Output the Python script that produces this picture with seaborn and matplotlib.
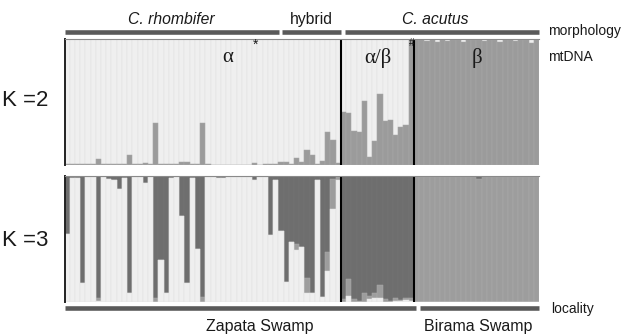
import numpy as np
import pandas as pd
import matplotlib
matplotlib.use("Agg")
import matplotlib.pyplot as plt
import seaborn as sns
from matplotlib.lines import Line2D

# ---------------- data ----------------
section_sizes = [53, 14, 24]          # alpha, alpha/beta, beta (mtDNA groups)
section_labels = ["α", "α/β", "β"]

# K = 2 : membership in cluster 2 (grey); cluster 1 (light) is the rest
k2_alpha_grey = [0.005, 0.004, 0.004, 0.004, 0.005, 0.004, 0.05, 0.004, 0.004, 0.004,
                 0.005, 0.004, 0.08, 0.004, 0.004, 0.015, 0.004, 0.33, 0.008, 0.005,
                 0.004, 0.004, 0.02, 0.02, 0.004, 0.01, 0.33, 0.004, 0.003, 0.003,
                 0.003, 0.003, 0.003, 0.003, 0.003, 0.003, 0.014, 0.003, 0.01, 0.005,
                 0.01, 0.024, 0.02, 0.01, 0.058, 0.02, 0.12, 0.08, 0.01, 0.03,
                 0.26, 0.20, 0.013]
k2_ab_grey = [0.42, 0.41, 0.27, 0.26, 0.51, 0.06, 0.19, 0.56, 0.35, 0.36, 0.24, 0.30, 0.32, 1.0]
k2_beta_grey = [0.99, 0.995, 0.985, 0.99, 0.98, 0.99, 0.985, 0.99, 0.99, 0.98, 0.99, 0.99,
                0.99, 0.985, 0.99, 0.99, 0.98, 0.99, 0.99, 0.985, 0.99, 0.99, 0.97, 0.99]

# K = 3 : dark cluster and medium cluster; light cluster is the rest
k3_alpha_dark = [0.46, 0.013, 0.013, 0.85, 0.01, 0.01, 0.97, 0.01, 0.02, 0.03,
                 0.10, 0.015, 0.93, 0.01, 0.01, 0.055, 0.01, 0.97, 0.67, 0.93,
                 0.015, 0.01, 0.32, 0.85, 0.012, 0.58, 0.96, 0.01, 0.01, 0.015,
                 0.015, 0.01, 0.01, 0.01, 0.01, 0.01, 0.035, 0.01, 0.01, 0.47,
                 0.03, 0.44, 0.84, 0.52, 0.54, 0.56, 0.81, 0.93, 0.03, 0.96,
                 0.60, 0.02, 0.01]
k3_alpha_medium = [0.0, 0.0, 0.0, 0.0, 0.0, 0.0, 0.02, 0.0, 0.0, 0.0,
                   0.0, 0.0, 0.0, 0.0, 0.0, 0.0, 0.0, 0.03, 0.0, 0.0,
                   0.0, 0.0, 0.0, 0.0, 0.0, 0.0, 0.04, 0.0, 0.0, 0.0,
                   0.0, 0.0, 0.0, 0.0, 0.0, 0.0, 0.0, 0.0, 0.0, 0.0,
                   0.0, 0.0, 0.0, 0.0, 0.045, 0.0, 0.12, 0.0, 0.0, 0.0,
                   0.15, 0.24, 0.02]
k3_ab_light = [0.0, 0.05, 0.0, 0.0, 0.0, 0.02, 0.035, 0.035, 0.0, 0.0, 0.01, 0.005, 0.015, 0.01]
k3_ab_medium = [0.02, 0.13, 0.025, 0.01, 0.075, 0.03, 0.04, 0.10, 0.02, 0.01, 0.02, 0.01, 0.02, 0.02]
k3_beta_dark = [0.005, 0.005, 0.005, 0.005, 0.005, 0.005, 0.005, 0.005, 0.005, 0.005, 0.005, 0.005,
                0.02, 0.005, 0.005, 0.005, 0.005, 0.005, 0.005, 0.005, 0.005, 0.005, 0.005, 0.005]

morph_labels = ["C. rhombifer", "hybrid", "C. acutus"]
locality_labels = ["Zapata Swamp", "Birama Swamp"]

# ---------------- tables ----------------
N = sum(section_sizes)
k2_grey = np.array(k2_alpha_grey + k2_ab_grey + k2_beta_grey)
k2 = pd.DataFrame({"ind": np.arange(N), "grey": k2_grey, "light": 1 - k2_grey})

k3_dark = np.array(k3_alpha_dark + [1 - l - m for l, m in zip(k3_ab_light, k3_ab_medium)] + k3_beta_dark)
k3_medium = np.array(k3_alpha_medium + k3_ab_medium + [1 - d for d in k3_beta_dark])
k3_light = 1 - k3_dark - k3_medium
k3 = pd.DataFrame({"ind": np.arange(N), "light": k3_light, "medium": k3_medium, "dark": k3_dark})

LIGHT = "#efefef"
GREY = "#9b9b9b"
MED = "#9d9d9d"
DARK = "#6e6e6e"

# ---------------- figure ----------------
sns.set_theme(style="white")
plt.rcParams["font.family"] = ["Liberation Sans", "DejaVu Sans"]

W, H = 621, 335
fig = plt.figure(figsize=(W / 100, H / 100), dpi=100)

def px_axes(x0, y0, x1, y1):
    return fig.add_axes([x0 / W, 1 - y1 / H, (x1 - x0) / W, (y1 - y0) / H])

def stacked(ax, df, cols, colors, edges):
    cum = df[cols].cumsum(axis=1)
    for col, c, e in reversed(list(zip(cols, colors, edges))):
        sns.barplot(x=df["ind"], y=cum[col], color=c, saturation=1, width=1.0,
                    errorbar=None, edgecolor=e, linewidth=0.35, ax=ax)

X0, X1 = 64.5, 539
ax2 = px_axes(X0, 39, X1, 165)
ax3 = px_axes(X0, 176, X1, 302)

stacked(ax2, k2, ["grey", "light"], [GREY, LIGHT], ["#a9a9a9", "#e2e2e2"])
stacked(ax3, k3, ["light", "medium", "dark"], [LIGHT, MED, DARK], ["#e2e2e2", "#aaaaaa", "#767676"])

bounds = np.cumsum(section_sizes)[:-1] - 0.5
for ax in (ax2, ax3):
    ax.set_xlim(-0.5, N - 0.5)
    ax.set_ylim(0, 1)
    ax.set_xticks([])
    ax.set_yticks([])
    ax.set_xlabel("")
    ax.set_ylabel("")
    for b in bounds:
        ax.axvline(b, color="black", lw=1.5)
    for s in ("right", "bottom"):
        ax.spines[s].set_visible(False)
    ax.spines["left"].set_color("#222222")
    ax.spines["left"].set_linewidth(1.4)
    ax.spines["top"].set_color("#8a8a8a")
    ax.spines["top"].set_linewidth(0.8)

def ftext(x, y, s, **kw):
    fig.text(x / W, 1 - y / H, s, **kw)

def fbar(x0, x1, y):
    fig.add_artist(Line2D([x0 / W, x1 / W], [1 - y / H, 1 - y / H], color="#5a5a5a",
                          lw=3.3, solid_capstyle="butt"))

TXT = "#1a1a1a"
# morphology
fbar(65, 278.5, 31.7)
fbar(281.7, 340.5, 31.7)
fbar(345, 538.5, 31.7)
ftext(171.5, 19.5, morph_labels[0], style="italic", fontsize=11.3, ha="center", va="center", color=TXT)
ftext(311.5, 19.5, morph_labels[1], fontsize=11.3, ha="center", va="center", color=TXT)
ftext(435.5, 19.5, morph_labels[2], style="italic", fontsize=11.3, ha="center", va="center", color=TXT)
ftext(548, 31, "morphology", fontsize=10, ha="left", va="center", color=TXT)
ftext(548, 57, "mtDNA", fontsize=10, ha="left", va="center", color=TXT)

# mtDNA labels
serif = ["Liberation Serif", "DejaVu Serif"]
ftext(228, 58, section_labels[0], fontsize=15, ha="center", va="center", family=serif, color=TXT)
ftext(378, 58, section_labels[1], fontsize=15, ha="center", va="center", family=serif, color=TXT)
ftext(477, 58, section_labels[2], fontsize=15, ha="center", va="center", family=serif, color=TXT)
ftext(255.5, 45, "*", fontsize=10, ha="center", va="center", color=TXT)
ftext(411.5, 43, "#", fontsize=7, ha="center", va="center", color=TXT)

# K labels
ftext(2, 101, "K =2", fontsize=16, ha="left", va="center", color=TXT)
ftext(2, 240, "K =3", fontsize=16, ha="left", va="center", color=TXT)

# locality
fbar(65, 416, 307.5)
fbar(420, 538.5, 307.5)
ftext(551, 309, "locality", fontsize=10, ha="left", va="center", color=TXT)
ftext(260, 327, locality_labels[0], fontsize=11.5, ha="center", va="center", color=TXT)
ftext(478, 327, locality_labels[1], fontsize=11.5, ha="center", va="center", color=TXT)

fig.savefig("out.png", dpi=100)
